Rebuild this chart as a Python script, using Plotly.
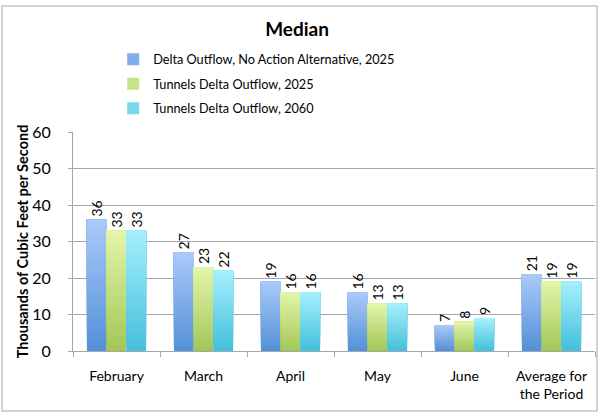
import plotly.graph_objects as go

categories = ["February", "March", "April", "May", "June", "Average for<br>the Period"]
series_names = [
    "Delta Outflow, No Action Alternative, 2025",
    "Tunnels Delta Outflow, 2025",
    "Tunnels Delta Outflow, 2060",
]
no_action_2025 = [36, 27, 19, 16, 7, 21]
tunnels_2025 = [33, 23, 16, 13, 8, 19]
tunnels_2060 = [33, 22, 16, 13, 9, 19]
y_ticks = [0, 10, 20, 30, 40, 50, 60]

# gradient end colours (top, bottom) per series
gradients = [
    ((171, 202, 249), (83, 144, 216)),
    ((228, 246, 170), (162, 199, 88)),
    ((165, 240, 252), (68, 191, 220)),
]
swatch = ["#80aee9", "#c7e38a", "#78d8ee"]

N_SEG = 24
FONT = "Lato, Open Sans, sans-serif"


def mix(c1, c2, t):
    return "rgb({},{},{})".format(*[round(a + (b - a) * t) for a, b in zip(c1, c2)])


fig = go.Figure()
all_values = [no_action_2025, tunnels_2025, tunnels_2060]
for s, (name, vals) in enumerate(zip(series_names, all_values)):
    top, bottom = gradients[s]
    # overlapping layers, each reaching the bar top, build a vertical gradient
    for k in range(N_SEG):
        frac0 = k / N_SEG
        base = [v * frac0 for v in vals]
        height = [v - b for v, b in zip(vals, base)]
        is_top = k == N_SEG - 1
        fig.add_trace(go.Bar(
            x=categories,
            y=height,
            base=base,
            offsetgroup=str(s),
            legendgroup=str(s),
            name=name,
            showlegend=False,
            marker=dict(color=mix(bottom, top, (k + 0.5) / N_SEG), line=dict(width=0)),
            text=[str(v) for v in vals] if is_top else None,
            textposition="outside" if is_top else "none",
            textangle=-90,
            textfont=dict(family=FONT, size=14, color="#000"),
            cliponaxis=False,
            hoverinfo="skip",
        ))
    # legend entry
    fig.add_trace(go.Bar(
        x=[categories[0]], y=[None], name=name, offsetgroup=str(s),
        legendgroup=str(s), marker=dict(color=swatch[s], line=dict(width=0)),
        showlegend=True,
    ))

fig.update_layout(
    width=599, height=414,
    margin=dict(l=73, r=4, t=132, b=63),
    paper_bgcolor="white", plot_bgcolor="white",
    barmode="group", bargap=0.32, bargroupgap=0,
    title=dict(text="<b>Median</b>", x=0.496, xanchor="center", y=0.928, yanchor="middle",
               font=dict(family=FONT, size=19, color="#000")),
    legend=dict(x=0.077, xanchor="left", y=1.40, yanchor="top", orientation="v",
                font=dict(family=FONT, size=12.7, color="#000"),
                itemwidth=30, tracegroupgap=5, bgcolor="rgba(0,0,0,0)"),
    font=dict(family=FONT, size=14, color="#000"),
    xaxis=dict(
        type="category", showline=True, linecolor="#a6a6a6", linewidth=1,
        ticks="outside", tickson="boundaries", ticklen=5, tickcolor="#a6a6a6",
        ticklabelstandoff=12,
        tickfont=dict(family=FONT, size=14, color="#000"), showgrid=False,
    ),
    yaxis=dict(
        range=[0, 60], tickvals=y_ticks, showline=True, linecolor="#a6a6a6",
        ticks="outside", ticklen=4, tickcolor="#a6a6a6", gridcolor="#a6a6a6",
        gridwidth=1, zeroline=False, ticklabelstandoff=14,
        tickfont=dict(family=FONT, size=16, color="#000"),
        title=dict(text="<b>Thousands of Cubic Feet per Second</b>",
                   font=dict(family=FONT, size=14.5, color="#000"), standoff=0),
    ),
    shapes=[dict(type="rect", xref="paper", yref="paper",
                 x0=(2 - 73) / 522, x1=(597 - 73) / 522,
                 y0=(351 - 411) / 219, y1=(351 - 6) / 219,
                 line=dict(color="#c4c4c4", width=1.5), layer="below")],
)

fig.write_html("out.html")
